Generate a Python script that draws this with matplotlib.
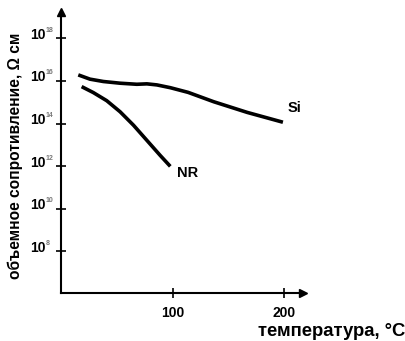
import numpy as np
import matplotlib
matplotlib.use("Agg")
import matplotlib.pyplot as plt
from matplotlib.transforms import offset_copy

plt.rcParams['font.family'] = ['Liberation Sans', 'DejaVu Sans']

# Volume resistivity (log10, Ohm*cm) vs temperature (deg C)
si_t = [15.5, 26, 38, 53, 68, 77, 86, 98, 114, 137, 167, 199]
si_log = [16.28, 16.08, 15.97, 15.89, 15.84, 15.86, 15.81, 15.68, 15.46, 15.02, 14.52, 14.06]
nr_t = [18.5, 29, 41, 53, 65, 77, 89, 98]
nr_log = [15.73, 15.45, 15.07, 14.55, 13.92, 13.21, 12.50, 11.99]

x_ticks = [100, 200]
y_ticks_exp = [8, 10, 12, 14, 16, 18]

W, H = 406, 341
fig = plt.figure(figsize=(W / 100, H / 100), dpi=100)
left, right, top, bottom = 61, 303, 12, 293
ax = fig.add_axes([left / W, 1 - bottom / H, (right - left) / W, (bottom - top) / H])

ax.set_xlim(0, 217)
ax.set_yscale('log')
ax.set_ylim(10 ** 6.05, 10 ** 19.23)

ax.plot(si_t, 10 ** np.array(si_log), color='black', lw=2.6,
        solid_capstyle='butt', solid_joinstyle='round')
ax.plot(nr_t, 10 ** np.array(nr_log), color='black', lw=2.6,
        solid_capstyle='butt', solid_joinstyle='round')

ax.text(203, 10 ** 14.72, 'Si', fontsize=10.5, fontweight='bold', va='center', ha='left')
ax.text(104, 10 ** 11.68, 'NR', fontsize=10.5, fontweight='bold', va='center', ha='left')

for s in ['top', 'right']:
    ax.spines[s].set_visible(False)
for s in ['left', 'bottom']:
    ax.spines[s].set_linewidth(1.5)

# arrowheads on the axes
ax.plot(1, 0, '>', color='black', ms=6, transform=ax.transAxes, clip_on=False)
ax.plot(0, 1, '^', color='black', ms=6, transform=ax.transAxes, clip_on=False)

ax.set_xticks(x_ticks)
ax.set_xticklabels([str(v) for v in x_ticks], fontsize=10, fontweight='bold')
ax.set_yticks([10.0 ** e for e in y_ticks_exp])
ax.set_yticklabels([])
ax.minorticks_off()
ax.tick_params(axis='both', direction='inout', length=7, width=1.2)
ax.tick_params(axis='x', pad=6)

# power-of-ten labels: base plus a small raised exponent
yax = ax.get_yaxis_transform()
base_tr = offset_copy(yax, fig=fig, x=-15, y=-0.5, units='dots')
exp_tr = offset_copy(yax, fig=fig, x=-15, y=6.5, units='dots')
for e in y_ticks_exp:
    ax.text(0, 10.0 ** e, '10', transform=base_tr, fontsize=10, fontweight='bold',
            ha='right', va='baseline')
    ax.text(0, 10.0 ** e, str(e), transform=exp_tr, fontsize=5, color='#777777',
            fontweight='bold', ha='left', va='baseline')

fig.text(15 / W, 1 - 156 / H, 'объемное сопротивление, Ω см', rotation=90,
         fontsize=11.2, fontweight='bold', va='center', ha='center')
fig.text(405 / W, 1 - 331 / H, 'температура, °C', fontsize=13.3, fontweight='bold',
         va='center', ha='right')

fig.savefig('out.png', dpi=100)
